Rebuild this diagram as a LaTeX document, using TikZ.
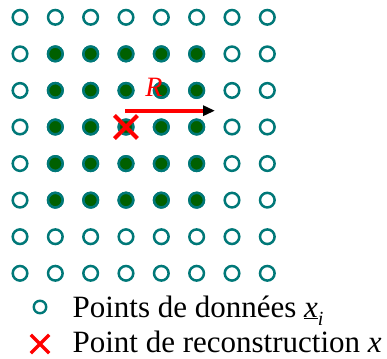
\documentclass[tikz,border=0pt]{standalone}
\usepackage{fontspec}
\setmainfont{Liberation Serif}
\usetikzlibrary{arrows.meta,shapes.misc,positioning}
\definecolor{tealpt}{RGB}{0,120,120}
\definecolor{greenpt}{RGB}{0,96,0}
\tikzset{>={Triangle[black,length=12pt,width=10pt]}}
\tikzset{every node/.style={font=\fontsize{31}{36}\selectfont}}

\begin{document}
\begin{tikzpicture}[x=1pt,y=1pt]
  \tikzstyle{data}=[draw=tealpt,line width=2.5pt,circle,inner sep=0pt,minimum size=14.6pt]
  \tikzstyle{inside}=[data,fill=greenpt]
  \tikzstyle{recon}=[cross out,draw=red,line width=4pt,inner sep=0pt,minimum size=19pt]
  \useasboundingbox (0,0) rectangle (387,358);

  % grid of data points
  \foreach \i in {0,...,7}
    \foreach \j in {0,...,7}
      \node[data](p\i\j) at (20+35.33*\j, 340.7-36.57*\i) {};
  % points inside the window
  \foreach \i in {1,...,5}
    \foreach \j in {1,...,5}
      \node[inside](q\i\j) at (p\i\j) {};

  \node[recon](x) at (p33) {};

  \coordinate (r0) at (125,247.3);
  \coordinate (r1) at (215,247.3);
  \draw [->][draw=red, line width=4pt] (r0) to (r1);
  \node[anchor=base,text=red,font=\fontsize{28}{30}\selectfont](R) at (154,261) {\textit{R}};

  % legend
  \node[data,line width=2.4pt,minimum size=12.5pt](l1) at (40,51) {};
  \node[anchor=base west](t1) at (69,41) {Points de données \underline{\textit{x}}\raisebox{-8pt}{\fontsize{20}{20}\selectfont\textit{i}}};
  \node[recon,line width=3.4pt,minimum size=15pt](l2) at (40,14) {};
  \node[anchor=base west](t2) at (69,6) {Point de reconstruction \textit{x}};
\end{tikzpicture}
\end{document}
